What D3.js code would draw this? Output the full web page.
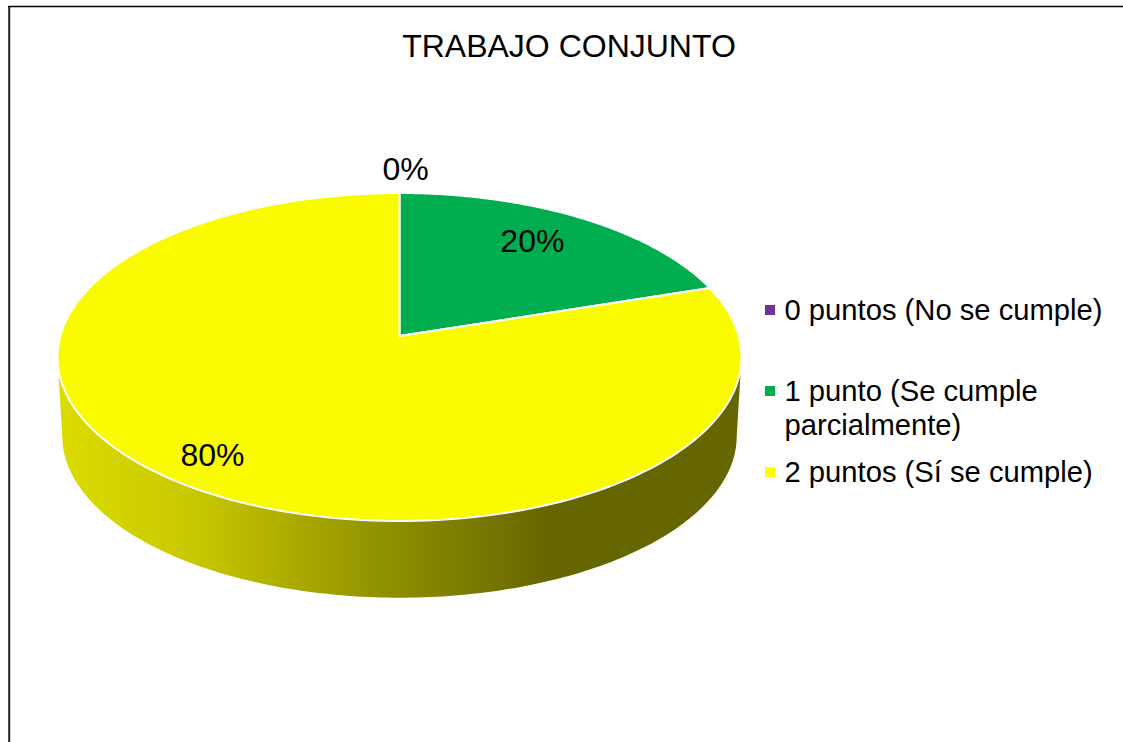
<!DOCTYPE html>
<html>
<head>
<meta charset="utf-8">
<style>
  html, body { margin: 0; padding: 0; background: #fff; overflow: hidden; }
  text { font-family: "Liberation Sans", Arial, sans-serif; fill: #000; }
</style>
</head>
<body>
<script src="https://cdn.jsdelivr.net/npm/d3@7"></script>
<script>
var categories = ['0 puntos (No se cumple)', '1 punto (Se cumple parcialmente)', '2 puntos (Sí se cumple)'];
var legendLines = [['0 puntos (No se cumple)'], ['1 punto (Se cumple', 'parcialmente)'], ['2 puntos (Sí se cumple)']];
var percentages = [0, 20, 80];
var sliceColors = ['#7030a0', '#00ae50', '#fbfb00'];
var chartTitle = 'TRABAJO CONJUNTO';

var width = 1123;
var height = 742;

var svg = d3.select('body').append('svg')
    .attr('width', width)
    .attr('height', height)
    .style('display', 'block');

// wall shading, darkens left to right then stays flat
var defs = svg.append('defs');
var wallGradient = defs.append('linearGradient')
    .attr('id', 'wall')
    .attr('gradientUnits', 'userSpaceOnUse')
    .attr('x1', 57).attr('x2', 741).attr('y1', 0).attr('y2', 0);
[[0, '#dcdc00'], [0.2, '#c8c800'], [0.5, '#8c8c00'], [0.72, '#666600'], [1, '#666600']].forEach(function (s) {
  wallGradient.append('stop').attr('offset', s[0]).attr('stop-color', s[1]);
});

// chart frame, cut by the window on the right and bottom
svg.append('line')
    .attr('x1', 9.2).attr('x2', 9.2).attr('y1', 6).attr('y2', height)
    .attr('stroke', '#222')
    .attr('stroke-width', 2);
svg.append('line')
    .attr('x1', 8).attr('x2', width).attr('y1', 6.5).attr('y2', 6.5)
    .attr('stroke', '#000')
    .attr('stroke-width', 1.4);

svg.append('text')
    .attr('x', 569)
    .attr('y', 57)
    .attr('text-anchor', 'middle')
    .style('font-size', '32px')
    .text(chartTitle);

// tilted disc: a circle seen in perspective, so the centre sits above the ellipse middle
var disc = {cx: 399.5, cy: 357, rx: 339.2, ry: 164, shift: -21, k: -0.128};

function project(angle, r, scale, dy) {
  var X = Math.sin(angle) * r;
  var Y = -Math.cos(angle) * r;
  var w = 1 + disc.k * Y;
  return [
    disc.cx + scale * disc.rx * X / w,
    disc.cy + dy + scale * (disc.ry * Y + disc.shift) / w
  ];
}

var pie = d3.pie().sort(null).value(function (d) { return d; });
var slices = pie(percentages);

var line = d3.line();

function arcPoints(a0, a1, r, scale, dy) {
  return d3.range(0, 181).map(function (i) {
    return project(a0 + (a1 - a0) * i / 180, r, scale, dy);
  });
}

// side wall, between the widest points of the upper and lower rim
var sideStart = Math.PI * 0.5 + 0.13;
var sideEnd = Math.PI * 1.5 - 0.13;
svg.append('path')
    .attr('d', line(arcPoints(sideStart, sideEnd, 1, 1, 0)
        .concat(arcPoints(sideEnd, sideStart, 1, 0.986, 79))) + 'Z')
    .attr('fill', 'url(#wall)');

// top face
svg.append('g')
    .selectAll('path')
    .data(slices.filter(function (d) { return d.value > 0; }))
    .enter().append('path')
    .attr('d', function (d) {
      return line([project(0, 0, 1, 0)].concat(arcPoints(d.startAngle, d.endAngle, 1, 1, 0))) + 'Z';
    })
    .attr('fill', function (d) { return sliceColors[d.index]; })
    .attr('stroke', '#fff')
    .attr('stroke-width', 2)
    .attr('stroke-linejoin', 'round');

// data labels
var labelRadius = [1.2, 0.71, 0.855];
var labelNudge = [[6, 1], [1, -9], [0, -4]];
svg.append('g')
    .selectAll('text')
    .data(slices)
    .enter().append('text')
    .attr('x', function (d) {
      var mid = (d.startAngle + d.endAngle) / 2;
      return project(mid, labelRadius[d.index], 1, 0)[0] + labelNudge[d.index][0];
    })
    .attr('y', function (d) {
      var mid = (d.startAngle + d.endAngle) / 2;
      return project(mid, labelRadius[d.index], 1, 0)[1] + labelNudge[d.index][1];
    })
    .attr('dy', '0.35em')
    .attr('text-anchor', 'middle')
    .style('font-size', '32px')
    .text(function (d) { return d.value + '%'; });

// legend
var legendTop = [310, 391, 472];
var legend = svg.append('g')
    .selectAll('g')
    .data(categories)
    .enter().append('g');

legend.append('rect')
    .attr('x', 765)
    .attr('y', function (d, i) { return legendTop[i] - 5; })
    .attr('width', 10)
    .attr('height', 10)
    .attr('fill', function (d, i) { return i === 2 ? '#ffff00' : sliceColors[i]; });

legend.each(function (d, i) {
  d3.select(this).selectAll('text')
      .data(legendLines[i])
      .enter().append('text')
      .attr('x', 784.5)
      .attr('y', function (t, j) { return legendTop[i] + 10 + j * 34; })
      .style('font-size', '29.2px')
      .text(function (t) { return t; });
});
</script>
</body>
</html>
